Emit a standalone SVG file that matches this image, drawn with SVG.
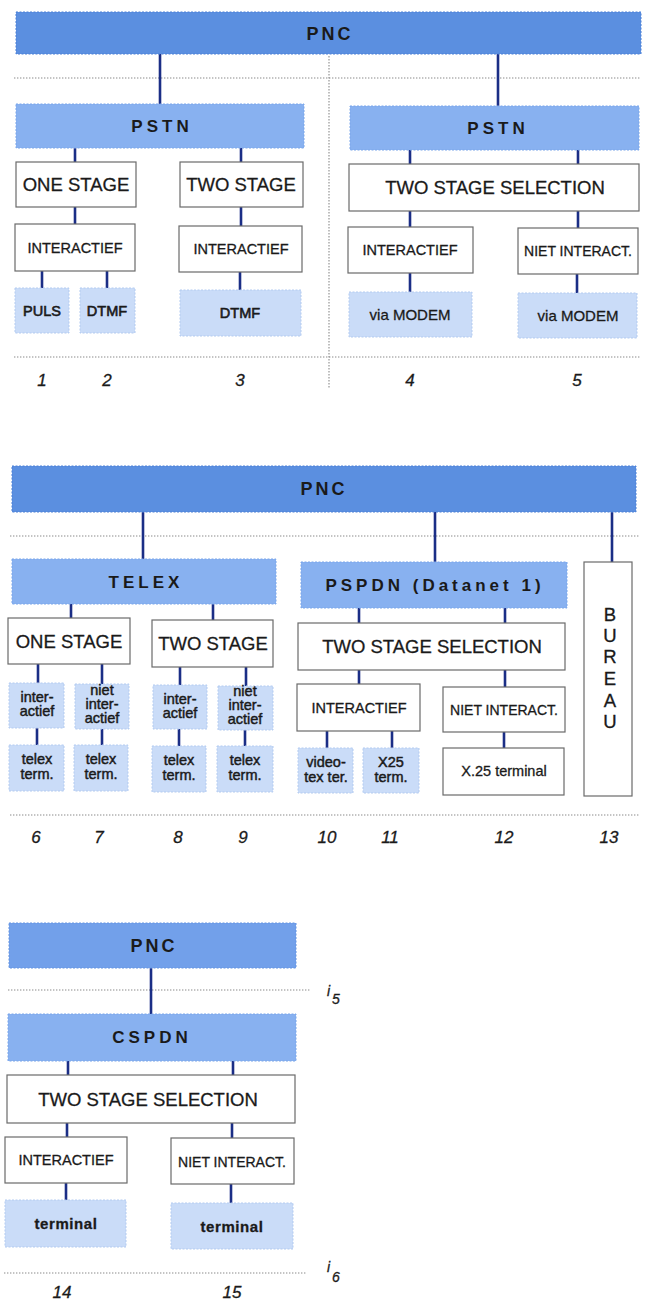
<svg xmlns="http://www.w3.org/2000/svg" width="647" height="1310" viewBox="0 0 647 1310">
<style>
.bg{fill:#ffffff}
.pnc{fill:#5b8fe0;stroke:#4d80d6;stroke-width:1;stroke-dasharray:2 1.5}
.pnc3{fill:#72a0ea;stroke:#6594e2;stroke-width:1;stroke-dasharray:2 1.5}
.net{fill:#88b1f0;stroke:#7ba6ea;stroke-width:1;stroke-dasharray:2 1.5}
.lt{fill:#cadcf8;stroke:#b3cbf0;stroke-width:1;stroke-dasharray:2 1.5}
.wb{fill:#ffffff;stroke:#6a6a6a;stroke-width:1.2}
.con line{stroke:#1b2e86;stroke-width:2.6}
.dot{stroke:#8a8a8a;stroke-width:1.1;stroke-dasharray:1.4 1.6;fill:none}
text{font-family:"Liberation Sans",Arial,sans-serif;fill:#1a1a1a;text-anchor:middle;stroke:#1a1a1a;stroke-width:0.3}
.tb{font-weight:bold;font-size:18px;letter-spacing:3px;stroke:none}
.tn{font-weight:bold;font-size:17px;letter-spacing:4px;stroke:none}
.big{font-size:18.5px}
.mid{font-size:14.5px}
.sm{font-size:14px}
.xs{font-size:14.5px;stroke-width:0.45}
.md{font-size:15px}
.bd{font-size:14.5px;stroke-width:0.6}
.num{font-size:17px;font-style:italic}
.idx{font-size:14px;font-style:italic;text-anchor:start}
</style>
<rect class="bg" x="0" y="0" width="647" height="1310"/>

<g id="guides">
<line class="dot" x1="14" y1="78" x2="640" y2="78"/>
<line class="dot" x1="329" y1="56" x2="329" y2="388"/>
<line class="dot" x1="14" y1="357" x2="640" y2="357"/>
<line class="dot" x1="10" y1="536" x2="640" y2="536"/>
<line class="dot" x1="10" y1="815" x2="640" y2="815"/>
<line class="dot" x1="8" y1="990" x2="310" y2="990"/>
<line class="dot" x1="4" y1="1273" x2="306" y2="1273"/>
</g>

<g id="connectors" class="con">
<line x1="160" y1="54" x2="160" y2="104"/>
<line x1="498" y1="54" x2="498" y2="106"/>
<line x1="75" y1="148" x2="75" y2="162"/>
<line x1="241" y1="148" x2="241" y2="162"/>
<line x1="410" y1="150" x2="410" y2="164"/>
<line x1="578" y1="150" x2="578" y2="164"/>
<line x1="75" y1="207" x2="75" y2="224"/>
<line x1="241" y1="207" x2="241" y2="226"/>
<line x1="410" y1="211" x2="410" y2="227"/>
<line x1="578" y1="211" x2="578" y2="228"/>
<line x1="42" y1="271" x2="42" y2="288"/>
<line x1="107" y1="271" x2="107" y2="288"/>
<line x1="240" y1="272" x2="240" y2="290"/>
<line x1="410" y1="273" x2="410" y2="292"/>
<line x1="577" y1="274" x2="577" y2="293"/>

<line x1="143" y1="512" x2="143" y2="559"/>
<line x1="435" y1="512" x2="435" y2="562"/>
<line x1="612" y1="512" x2="612" y2="562"/>
<line x1="71" y1="604" x2="71" y2="618"/>
<line x1="213" y1="604" x2="213" y2="620"/>
<line x1="359" y1="608" x2="359" y2="623"/>
<line x1="505" y1="608" x2="505" y2="623"/>
<line x1="38" y1="664" x2="38" y2="683"/>
<line x1="102" y1="664" x2="102" y2="684"/>
<line x1="180" y1="667" x2="180" y2="685"/>
<line x1="246" y1="667" x2="246" y2="686"/>
<line x1="359" y1="670" x2="359" y2="684"/>
<line x1="505" y1="670" x2="505" y2="687"/>
<line x1="37" y1="728" x2="37" y2="745"/>
<line x1="102" y1="729" x2="102" y2="745"/>
<line x1="179" y1="729" x2="179" y2="746"/>
<line x1="245" y1="730" x2="245" y2="746"/>
<line x1="327" y1="731" x2="327" y2="748"/>
<line x1="392" y1="731" x2="392" y2="748"/>
<line x1="504" y1="732" x2="504" y2="748"/>

<line x1="151" y1="968" x2="151" y2="1014"/>
<line x1="68" y1="1061" x2="68" y2="1075"/>
<line x1="233" y1="1061" x2="233" y2="1075"/>
<line x1="67" y1="1123" x2="67" y2="1137"/>
<line x1="232" y1="1123" x2="232" y2="1138"/>
<line x1="66" y1="1183" x2="66" y2="1200"/>
<line x1="231" y1="1184" x2="231" y2="1203"/>
</g>

<!-- Section 1 -->
<g id="pnc1"><rect class="pnc" x="16" y="12" width="625" height="42"/><text class="tb" x="330" y="40">PNC</text></g>
<g id="pstn1"><rect class="net" x="16" y="104" width="288" height="44"/><text class="tn" x="162" y="132">PSTN</text></g>
<g id="pstn2"><rect class="net" x="350" y="106" width="289" height="44"/><text class="tn" x="498" y="134">PSTN</text></g>
<g id="onestage1"><rect class="wb" x="16" y="162" width="120" height="45"/><text class="big" x="76" y="191">ONE STAGE</text></g>
<g id="twostage1"><rect class="wb" x="180" y="162" width="123" height="45"/><text class="big" x="241" y="191">TWO STAGE</text></g>
<g id="tss1"><rect class="wb" x="349" y="164" width="290" height="47"/><text class="big" x="495" y="194">TWO STAGE SELECTION</text></g>
<g id="inter1"><rect class="wb" x="15" y="224" width="120" height="47"/><text class="mid" x="75" y="253">INTERACTIEF</text></g>
<g id="inter2"><rect class="wb" x="179" y="226" width="123" height="46"/><text class="mid" x="241" y="254">INTERACTIEF</text></g>
<g id="inter4"><rect class="wb" x="348" y="227" width="125" height="46"/><text class="mid" x="410" y="255">INTERACTIEF</text></g>
<g id="niet5"><rect class="wb" x="518" y="228" width="120" height="46"/><text class="sm" x="578" y="256">NIET INTERACT.</text></g>
<g id="puls"><rect class="lt" x="15" y="288" width="54" height="45"/><text class="bd" x="42" y="316">PULS</text></g>
<g id="dtmf2"><rect class="lt" x="80" y="288" width="55" height="45"/><text class="bd" x="107" y="316">DTMF</text></g>
<g id="dtmf3"><rect class="lt" x="180" y="290" width="121" height="46"/><text class="bd" x="240" y="318">DTMF</text></g>
<g id="modem4"><rect class="lt" x="349" y="292" width="123" height="45"/><text class="md" x="410" y="320">via MODEM</text></g>
<g id="modem5"><rect class="lt" x="518" y="293" width="119" height="45"/><text class="md" x="578" y="321">via MODEM</text></g>
<g id="nums1">
<text class="num" x="42" y="386">1</text>
<text class="num" x="107" y="386">2</text>
<text class="num" x="240" y="386">3</text>
<text class="num" x="410" y="386">4</text>
<text class="num" x="577" y="386">5</text>
</g>

<!-- Section 2 -->
<g id="pnc2"><rect class="pnc" x="12" y="466" width="624" height="46"/><text class="tb" x="324" y="495">PNC</text></g>
<g id="telex"><rect class="net" x="12" y="559" width="264" height="45"/><text class="tn" x="146" y="588" letter-spacing="4.5">TELEX</text></g>
<g id="pspdn"><rect class="net" x="301" y="562" width="266" height="46"/><text class="tn" x="435" y="591" letter-spacing="3">PSPDN (Datanet 1)</text></g>
<g id="bureau"><rect class="wb" x="584" y="562" width="48" height="234"/>
<text class="big" x="610" y="621">B</text>
<text class="big" x="610" y="642">U</text>
<text class="big" x="610" y="663">R</text>
<text class="big" x="610" y="685">E</text>
<text class="big" x="610" y="707">A</text>
<text class="big" x="610" y="728">U</text>
</g>
<g id="onestage2"><rect class="wb" x="8" y="618" width="122" height="46"/><text class="big" x="69" y="648">ONE STAGE</text></g>
<g id="twostage2"><rect class="wb" x="152" y="620" width="121" height="47"/><text class="big" x="213" y="650">TWO STAGE</text></g>
<g id="tss2"><rect class="wb" x="298" y="623" width="267" height="47"/><text class="big" x="432" y="653">TWO STAGE SELECTION</text></g>
<g id="ia6"><rect class="lt" x="9" y="683" width="55" height="45"/><text class="xs" x="37" y="702">inter-</text><text class="xs" x="37" y="716">actief</text></g>
<g id="nia7"><rect class="lt" x="75" y="684" width="54" height="45"/><text class="xs" x="102" y="695">niet</text><text class="xs" x="102" y="709">inter-</text><text class="xs" x="102" y="723">actief</text></g>
<g id="ia8"><rect class="lt" x="153" y="685" width="54" height="44"/><text class="xs" x="180" y="704">inter-</text><text class="xs" x="180" y="718">actief</text></g>
<g id="nia9"><rect class="lt" x="218" y="686" width="55" height="44"/><text class="xs" x="245" y="696">niet</text><text class="xs" x="245" y="710">inter-</text><text class="xs" x="245" y="724">actief</text></g>
<g id="inter10"><rect class="wb" x="297" y="684" width="123" height="47"/><text class="mid" x="359" y="713">INTERACTIEF</text></g>
<g id="niet12"><rect class="wb" x="443" y="687" width="122" height="45"/><text class="sm" x="504" y="715">NIET INTERACT.</text></g>
<g id="tt6"><rect class="lt" x="9" y="745" width="55" height="46"/><text class="xs" x="37" y="764">telex</text><text class="xs" x="37" y="779">term.</text></g>
<g id="tt7"><rect class="lt" x="74" y="745" width="54" height="46"/><text class="xs" x="101" y="764">telex</text><text class="xs" x="101" y="779">term.</text></g>
<g id="tt8"><rect class="lt" x="152" y="746" width="54" height="46"/><text class="xs" x="179" y="765">telex</text><text class="xs" x="179" y="780">term.</text></g>
<g id="tt9"><rect class="lt" x="217" y="746" width="56" height="46"/><text class="xs" x="245" y="765">telex</text><text class="xs" x="245" y="780">term.</text></g>
<g id="vt10"><rect class="lt" x="298" y="748" width="55" height="45"/><text class="xs" x="326" y="767">video-</text><text class="xs" x="326" y="782">tex ter.</text></g>
<g id="x25t11"><rect class="lt" x="363" y="748" width="56" height="45"/><text class="xs" x="391" y="767">X25</text><text class="xs" x="391" y="782">term.</text></g>
<g id="x25term12"><rect class="wb" x="443" y="748" width="121" height="47"/><text class="mid" x="504" y="776">X.25 terminal</text></g>
<g id="nums2">
<text class="num" x="36" y="843">6</text>
<text class="num" x="99" y="843">7</text>
<text class="num" x="178" y="843">8</text>
<text class="num" x="243" y="843">9</text>
<text class="num" x="327" y="843">10</text>
<text class="num" x="390" y="843">11</text>
<text class="num" x="504" y="843">12</text>
<text class="num" x="609" y="843">13</text>
</g>

<!-- Section 3 -->
<g id="pnc3"><rect class="pnc3" x="9" y="923" width="287" height="45"/><text class="tb" x="154" y="952">PNC</text></g>
<g id="i5"><text class="idx" x="327" y="996">i</text><text class="idx" x="332" y="1004">5</text></g>
<g id="cspdn"><rect class="net" x="8" y="1014" width="288" height="47"/><text class="tn" x="152" y="1043">CSPDN</text></g>
<g id="tss3"><rect class="wb" x="7" y="1075" width="288" height="48"/><text class="big" x="148" y="1106">TWO STAGE SELECTION</text></g>
<g id="inter14"><rect class="wb" x="5" y="1137" width="122" height="46"/><text class="mid" x="66" y="1165">INTERACTIEF</text></g>
<g id="niet15"><rect class="wb" x="171" y="1138" width="123" height="46"/><text class="sm" x="232" y="1167">NIET INTERACT.</text></g>
<g id="term14"><rect class="lt" x="5" y="1200" width="121" height="47"/><text x="66" y="1229" font-size="15" font-weight="bold" letter-spacing="0.6" stroke="none">terminal</text></g>
<g id="term15"><rect class="lt" x="171" y="1203" width="122" height="46"/><text x="232" y="1232" font-size="15" font-weight="bold" letter-spacing="0.6" stroke="none">terminal</text></g>
<g id="i6"><text class="idx" x="327" y="1272">i</text><text class="idx" x="332" y="1282">6</text></g>
<g id="nums3">
<text class="num" x="62" y="1298">14</text>
<text class="num" x="232" y="1298">15</text>
</g>
</svg>
